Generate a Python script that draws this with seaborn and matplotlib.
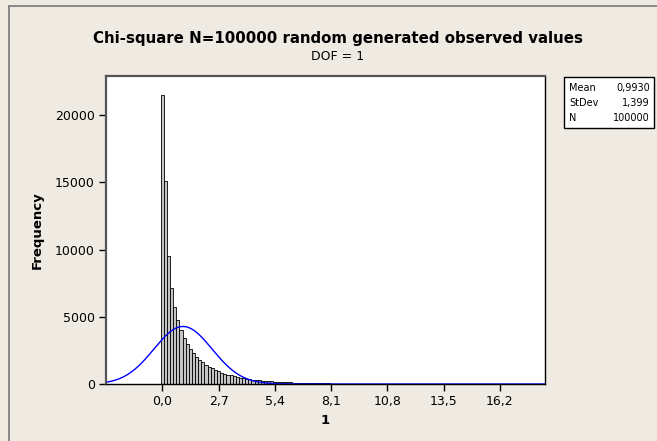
import numpy as np
import pandas as pd
import matplotlib
matplotlib.use("Agg")
import matplotlib.pyplot as plt
import seaborn as sns
from matplotlib.lines import Line2D
from matplotlib.patches import Rectangle

# ---- data ----
bin_width = 0.15
counts = [21500, 15100, 9550, 7160, 5740, 4740, 4040, 3455, 2998, 2623, 2308,
          2042, 1813, 1617, 1445, 1295, 1163, 1047, 944, 852, 771,
          698, 632, 574, 521, 474, 431, 392, 358, 326, 297,
          271, 248, 226, 207, 189, 173, 158, 145, 133, 122,
          112, 103, 94, 87, 80, 73, 67, 62, 57, 52,
          48, 44, 41, 37, 34, 32, 29, 27, 25, 23,
          21, 19, 18, 16, 15, 14, 13, 12, 11, 10,
          9, 8, 8, 7, 7, 6, 5, 5, 5, 4,
          4, 3, 3, 3, 3, 2, 2, 2, 2, 2,
          2, 1, 1, 1, 1, 1, 1, 1, 1, 1,
          1, 0, 1, 1, 0, 1, 0, 0, 1, 0, 1, 0, 0, 1, 0, 0, 0, 1, 0, 1]
stat_mean = 0.9930
stat_sd = 1.399
stat_n = 100000
x_ticks = [0.0, 2.7, 5.4, 8.1, 10.8, 13.5, 16.2]
x_tick_labels = ["0,0", "2,7", "5,4", "8,1", "10,8", "13,5", "16,2"]
y_ticks = [0, 5000, 10000, 15000, 20000]
stats_labels = ["Mean", "StDev", "N"]
stats_values = ["0,9930", "1,399", "100000"]

centers = np.arange(len(counts)) * bin_width
df = pd.DataFrame({"x": centers, "w": counts})

xs = np.linspace(-2.7, 18.36, 600)
fit = stat_n * bin_width * np.exp(-0.5 * ((xs - stat_mean) / stat_sd) ** 2) / (stat_sd * np.sqrt(2 * np.pi))
df_fit = pd.DataFrame({"x": xs, "y": fit})

sns.set_style("ticks")
plt.rcParams["font.family"] = ["DejaVu Sans"]
plt.rcParams["text.color"] = "black"
plt.rcParams["axes.labelcolor"] = "black"
plt.rcParams["xtick.color"] = "black"
plt.rcParams["ytick.color"] = "black"

bg = "#efebe2"
fig = plt.figure(figsize=(6.57, 4.41), dpi=100, facecolor=bg)
ax = fig.add_axes([106 / 657, 1 - 384 / 441, (545 - 106) / 657, (384 - 76) / 441])
ax.set_facecolor("white")

sns.histplot(data=df, x="x", weights="w", binwidth=bin_width,
             binrange=(centers[0] - bin_width / 2, centers[-1] + bin_width / 2), ax=ax,
             color="#c4c4c4", edgecolor="black", linewidth=0.6, alpha=1)
sns.lineplot(data=df_fit, x="x", y="y", ax=ax, color="#0000ff", linewidth=1.0)

ax.set_xlim(-2.7, 18.36)
ax.set_ylim(0, 22900)
ax.set_xticks(x_ticks)
ax.set_xticklabels(x_tick_labels)
ax.set_yticks(y_ticks)
ax.set_yticklabels([str(v) for v in y_ticks])
ax.tick_params(axis="both", labelsize=9, length=5, width=1, color="black", pad=3)
ax.set_xlabel("1", fontsize=9.5, fontweight="bold", labelpad=4)
ax.set_ylabel("Frequency", fontsize=9.5, fontweight="bold", labelpad=8)

for s in ["top", "left"]:
    ax.spines[s].set_color("#555555")
    ax.spines[s].set_linewidth(1.6)
for s in ["right", "bottom"]:
    ax.spines[s].set_color("black")
    ax.spines[s].set_linewidth(1.0)

fig.text(338 / 657, 1 - 38 / 441, "Chi-square N=100000 random generated observed values",
         ha="center", va="center", fontsize=10.8, fontweight="bold")
fig.text(338 / 657, 1 - 57 / 441, "DOF = 1", ha="center", va="center", fontsize=9)

# outer frame lines (left and top)
fig.add_artist(Line2D([9 / 657, 9 / 657], [0, 1 - 6 / 441], transform=fig.transFigure,
                      color="#777777", linewidth=1.2))
fig.add_artist(Line2D([9 / 657, 1], [1 - 6 / 441, 1 - 6 / 441], transform=fig.transFigure,
                      color="#777777", linewidth=1.2))

# stats box
bx0, by0, bx1, by1 = 564, 77, 654, 128
fig.add_artist(Rectangle((bx0 / 657, 1 - by1 / 441), (bx1 - bx0) / 657, (by1 - by0) / 441,
                         transform=fig.transFigure, facecolor="white", edgecolor="black",
                         linewidth=1.0))
for i, (lab, val) in enumerate(zip(stats_labels, stats_values)):
    yy = 1 - (88 + i * 15) / 441
    fig.text(569 / 657, yy, lab, ha="left", va="center", fontsize=7)
    fig.text(650 / 657, yy, val, ha="right", va="center", fontsize=7)

fig.savefig("out.png", dpi=100, facecolor=bg)
